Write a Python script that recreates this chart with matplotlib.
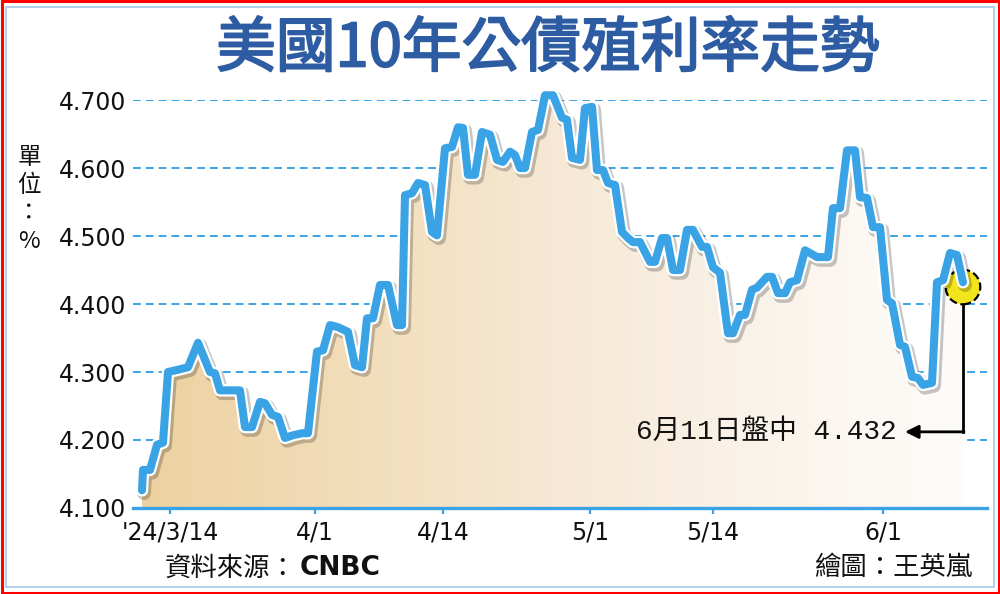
import matplotlib
matplotlib.use('Agg')
import matplotlib.pyplot as plt
import matplotlib.patheffects as pe
import numpy as np
from matplotlib.colors import LinearSegmentedColormap
from matplotlib.patches import Rectangle

plt.rcParams['font.family'] = ['DejaVu Sans', 'Noto Sans CJK TC']
CJK = ['Noto Sans CJK TC', 'DejaVu Sans']

# positions along the timeline and yields in %
pos = [0.9, 1.0, 1.7, 2.4, 3.0, 3.5, 4.4, 5.5, 6.5, 7.7, 8.2, 8.7, 10.7, 11.2,
       11.9, 12.7, 13.2, 13.9, 14.5, 15.2, 16.0, 16.9, 17.5, 18.4, 19.0, 19.7,
       20.5, 21.5, 22.2, 22.9, 23.4, 24.0, 24.7, 25.5, 26.4, 26.9, 27.2, 27.9,
       28.5, 29.2, 29.9, 30.4, 31.2, 31.9, 32.5, 33.0, 33.5, 34.2, 34.9, 35.7,
       36.4, 37.0, 37.7, 38.2, 38.7, 39.2, 39.9, 40.5, 41.2, 42.0, 42.9, 43.4,
       43.9, 44.7, 45.2, 45.9, 46.4, 47.0, 47.5, 48.2, 48.9, 49.5, 50.0, 50.7,
       51.7, 52.2, 52.9, 53.4, 54.0, 54.7, 55.4, 56.0, 56.9, 57.4, 58.0, 58.7,
       59.5, 60.0, 60.7, 61.2, 61.9, 62.4, 63.4, 63.9, 64.5, 65.2, 65.7, 66.4,
       67.2, 67.7, 68.4, 69.5, 70.0, 70.7, 71.4, 72.2, 72.7, 73.4, 74.0, 74.7,
       75.4, 75.9, 76.7, 77.2, 77.9, 78.5, 79.0, 79.9, 80.4, 81.0, 81.7, 82.4,
       83.0]
yields = [4.126, 4.156, 4.156, 4.193, 4.196, 4.300, 4.303, 4.307, 4.343, 4.300,
          4.298, 4.273, 4.273, 4.219, 4.219, 4.256, 4.254, 4.237, 4.234, 4.203,
          4.207, 4.210, 4.210, 4.330, 4.332, 4.369, 4.366, 4.359, 4.310, 4.307,
          4.379, 4.379, 4.428, 4.428, 4.369, 4.369, 4.560, 4.563, 4.578, 4.575,
          4.506, 4.501, 4.629, 4.631, 4.660, 4.659, 4.590, 4.590, 4.653, 4.649,
          4.612, 4.609, 4.624, 4.619, 4.600, 4.600, 4.653, 4.656, 4.707, 4.707,
          4.674, 4.671, 4.615, 4.612, 4.688, 4.690, 4.597, 4.597, 4.578, 4.575,
          4.506, 4.497, 4.491, 4.491, 4.462, 4.462, 4.497, 4.497, 4.450, 4.450,
          4.509, 4.509, 4.484, 4.484, 4.454, 4.446, 4.357, 4.357, 4.384, 4.384,
          4.421, 4.424, 4.440, 4.440, 4.416, 4.416, 4.432, 4.435, 4.479, 4.475,
          4.469, 4.469, 4.541, 4.541, 4.626, 4.626, 4.557, 4.556, 4.513, 4.513,
          4.406, 4.401, 4.340, 4.337, 4.293, 4.291, 4.281, 4.284, 4.432, 4.435,
          4.475, 4.472, 4.432]

tick_pos = [3.7, 18.2, 31.0, 45.7, 58.0, 75.0]
tick_labels = ["'24/3/14", '4/1', '4/14', '5/1', '5/14', '6/1']
y_ticks = [4.1, 4.2, 4.3, 4.4, 4.5, 4.6, 4.7]
last_label = '6月11日盤中 4.432'

blue = '#3AA3E6'
title_blue = '#2E5CA3'

fig = plt.figure(figsize=(10, 5.94), dpi=100)
ax = fig.add_axes([0.133, 0.1448, 0.854, 0.6868])
ax.set_xlim(0, 85.4)
ax.set_ylim(4.1, 4.7)

# dashed grid behind the fill
for yv in y_ticks[1:]:
    ax.axhline(yv, color=blue, lw=1.4, ls=(0, (4, 2.6)), zorder=0.5)

# gradient fill under the line
poly = ax.fill_between(pos, yields, 4.1, facecolor='none', edgecolor='none')
cmap = LinearSegmentedColormap.from_list(
    'tan', ['#EDD1A0', '#F2DDB9', '#F6E8D4', '#FAF3EA', '#FEFCFA'])
grad = np.linspace(0, 1, 256).reshape(1, -1)
im = ax.imshow(grad, extent=(pos[0], pos[-1], 4.1, 4.72), aspect='auto',
               cmap=cmap, zorder=1, origin='lower')
im.set_clip_path(poly.get_paths()[0], transform=ax.transData)
ax.set_xlim(0, 85.4)
ax.set_ylim(4.1, 4.7)

# highlight circle at the last value
ax.scatter([pos[-1]], [yields[-1] - 0.007], s=620, color='#F2E51C',
           edgecolors='black', linewidths=1.6, linestyles='--', zorder=2,
           clip_on=False)

ax.plot(pos, yields, color=blue, lw=5.8, solid_joinstyle='round',
        solid_capstyle='round', zorder=3, clip_on=False,
        path_effects=[pe.SimpleLineShadow(offset=(1.5, -2), shadow_color='k',
                                          alpha=0.22, linewidth=10),
                      pe.Stroke(linewidth=9, foreground='white'),
                      pe.Normal()])

# callout
ax.plot([pos[-1], pos[-1]], [4.398, 4.212], color='black', lw=2, zorder=2)
ax.annotate('', xy=(77.2, 4.212), xytext=(pos[-1] + 0.1, 4.212),
            arrowprops=dict(arrowstyle='-|>', color='black', lw=2,
                            mutation_scale=20, shrinkA=0, shrinkB=0))
ax.text(76.4, 4.212, last_label, ha='right', va='center', fontsize=20,
        family=['Liberation Mono', 'Noto Sans CJK TC'], color='#111111')

for s in ['top', 'right', 'left']:
    ax.spines[s].set_visible(False)
ax.spines['bottom'].set_color(blue)
ax.spines['bottom'].set_linewidth(2.4)
ax.spines['bottom'].set_zorder(4)

ax.set_xticks(tick_pos)
ax.set_xticklabels(tick_labels, fontsize=17, color='#111111')
ax.tick_params(axis='x', direction='out', length=4, width=1.6, color=blue, pad=5)
ax.set_yticks(y_ticks)
ax.set_yticklabels(['%.3f' % v for v in y_ticks], fontsize=17, color='#111111')
ax.tick_params(axis='y', length=0, pad=5)
ax.patch.set_alpha(0)

# titles and notes
fig.text(0.548, 0.916, '美國10年公債殖利率走勢', ha='center', va='center',
         fontsize=43, color=title_blue, family=CJK,
         path_effects=[pe.Stroke(linewidth=1.4, foreground=title_blue),
                       pe.Normal()])
for i, ch in enumerate(['單', '位', '：', '%']):
    fig.text(0.029, 1 - (158 + 28 * i) / 594, ch, ha='center', va='center',
             fontsize=17, family=CJK, color='#111111')
fig.text(0.165, 0.044, '資料來源：', ha='left', va='center', fontsize=19,
         family=CJK, color='#111111')
fig.text(0.300, 0.044, 'CNBC', ha='left', va='center', fontsize=19,
         fontweight='bold', color='#111111')
fig.text(0.972, 0.044, '繪圖：王英嵐', ha='right', va='center', fontsize=19,
         family=CJK, color='#111111')

# frame
fig.patches.append(Rectangle((0.0015, 0.0025), 0.997, 0.995, fill=False,
                             ec='red', lw=2.2, transform=fig.transFigure))
fig.patches.append(Rectangle((0.006, 0.012), 0.988, 0.976, fill=False,
                             ec='#A7C7E7', lw=1.2, transform=fig.transFigure))

fig.savefig('out.png', dpi=100)
